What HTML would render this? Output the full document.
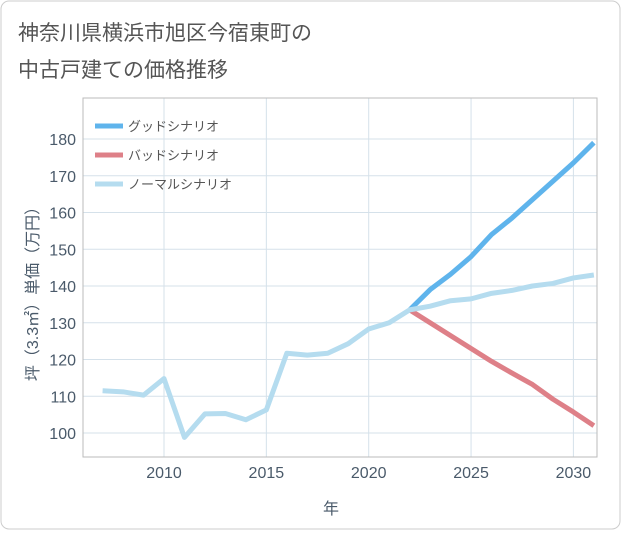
<!DOCTYPE html>
<html><head><meta charset="utf-8"><style>
body{margin:0;background:#fff;font-family:"Liberation Sans","Noto Sans CJK JP",sans-serif}
#wrap{position:relative;width:621px;height:530px}
</style></head><body>
<div id="wrap">
<svg id="chart" width="621" height="530">
<rect x="1" y="1" width="619" height="528" rx="8" fill="#fff" stroke="#ccc"/>
<text x="18" y="40" font-size="21" fill="#555">神奈川県横浜市旭区今宿東町の</text>
<text x="18" y="77" font-size="21" fill="#555">中古戸建ての価格推移</text>
<g id="grid"></g><g id="series"></g><g id="axes"></g>
<text x="331" y="514" font-size="16" fill="#4a5a6a" text-anchor="middle">年</text>
<text transform="translate(38,290) rotate(-90)" font-size="16" fill="#4a5a6a" text-anchor="middle">坪（3.3㎡）単価（万円）</text>
</svg></div>
<script>
const years=[2007,2008,2009,2010,2011,2012,2013,2014,2015,2016,2017,2018,2019,2020,2021,2022,2023,2024,2025,2026,2027,2028,2029,2030,2031];
const normalVals=[111.5,111.2,110.3,114.8,98.8,105.2,105.3,103.6,106.3,121.7,121.2,121.7,124.3,128.3,130,133.5,134.5,136,136.5,138,138.8,140,140.7,142.2,143];
const futureYears=[2022,2023,2024,2025,2026,2027,2028,2029,2030,2031];
const goodVals=[133.5,139,143.2,148,154,158.5,163.5,168.5,173.5,179];
const badVals=[133.5,130,126.5,123,119.5,116.3,113.2,109.2,105.7,102];
const xTicks=[2010,2015,2020,2025,2030];
const yTicks=[100,110,120,130,140,150,160,170,180];
const seriesNames=["グッドシナリオ","バッドシナリオ","ノーマルシナリオ"];
const L=83,R=597,T=98,B=457;
const X=y=>164+(y-2010)*20.47;
const Y=v=>433-(v-100)*3.675;
const NS="http://www.w3.org/2000/svg";
function mk(t,p,a){const e=document.createElementNS(NS,t);for(const k in a)e.setAttribute(k,a[k]);p.appendChild(e);return e;}
const g=document.getElementById('grid'),s=document.getElementById('series'),ax=document.getElementById('axes');
xTicks.forEach(t=>{const l=mk('line',g,{x1:X(t),x2:X(t),y1:T,y2:B,stroke:'#d5e1ea'});

const tx=mk('text',ax,{x:X(t),y:B+21,'font-size':16,fill:'#4a5a6a','text-anchor':'middle'});tx.textContent=t;
});
yTicks.forEach(t=>{const l=mk('line',g,{x1:L,x2:R,y1:Y(t),y2:Y(t),stroke:'#d5e1ea'});

const tx=mk('text',ax,{x:L-7,y:Y(t)+6,'font-size':16,fill:'#4a5a6a','text-anchor':'end'});tx.textContent=t;
});
const frame=mk('rect',g,{x:L,y:T,width:R-L,height:B-T,fill:'none',stroke:'#bbb'});

function line(xs,vs,c,name){const p=mk('polyline',s,{points:xs.map((y,i)=>X(y)+','+Y(vs[i])).join(' '),fill:'none',stroke:c,'stroke-width':5,'stroke-linejoin':'round'});
}
line(futureYears,badVals,'#de8088','bad-scenario-line');
line(futureYears,goodVals,'#5fb4ec','good-scenario-line');
line(years,normalVals,'#b5dcef','normal-scenario-line');
const cols=['#5fb4ec','#de8088','#b5dcef'];
seriesNames.forEach((n,i)=>{const yy=126+i*29;
const l=mk('line',ax,{x1:95,x2:123,y1:yy,y2:yy,stroke:cols[i],'stroke-width':5});

const t=mk('text',ax,{x:128,y:yy+5,'font-size':13,fill:'#555'});t.textContent=n;
});
</script></body></html>
